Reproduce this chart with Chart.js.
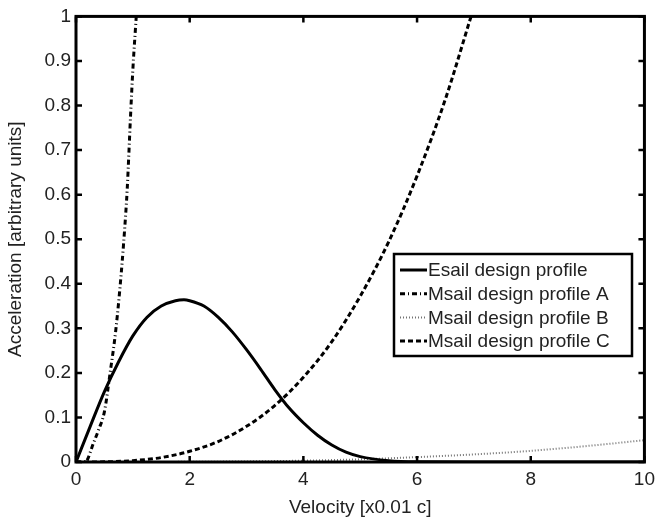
<!DOCTYPE html>
<html>
<head>
<meta charset="utf-8">
<script src="https://cdn.jsdelivr.net/npm/chart.js@4/dist/chart.umd.min.js"></script>
<style>
  html, body { margin: 0; padding: 0; background: #fff; }
</style>
</head>
<body>
<canvas id="profileChart" width="661" height="524"></canvas>
<script>
// Velocity values (x0.01 c) and accelerations
const esailV = [0, 0.25, 0.5, 0.75, 1.0, 1.25, 1.5, 1.75, 1.9, 2.0, 2.25, 2.5, 2.75, 3.0, 3.25, 3.5, 3.75, 4.0, 4.25, 4.5, 4.75, 5.0, 5.5, 6.0, 7.0, 8.0, 9.0, 10.0];
const esailA = [0, 0.08, 0.158, 0.225, 0.283, 0.325, 0.35, 0.362, 0.364, 0.362, 0.35, 0.325, 0.292, 0.252, 0.208, 0.162, 0.121, 0.088, 0.06, 0.038, 0.022, 0.012, 0.003, 0.0005, 0, 0, 0, 0];

const msailAV = [0, 0.1, 0.17, 0.2, 0.3, 0.4, 0.5, 0.6, 0.7, 0.8, 0.874, 0.9, 0.96, 1.0, 1.06];
const msailAA = [0, 0, 0, 0.005, 0.04, 0.073, 0.113, 0.2, 0.296, 0.43, 0.556, 0.61, 0.778, 0.88, 1.0];

const msailBV = [0, 1, 2, 3, 4, 5, 6, 7, 8, 9, 10];
const msailBA = [0, 0.00005, 0.0004, 0.0013, 0.003, 0.006, 0.011, 0.017, 0.025, 0.036, 0.049];

const msailCV = [0, 0.5, 1, 1.5, 2, 2.5, 3, 3.5, 4, 4.5, 5, 5.5, 6, 6.5, 6.95];
const msailCA = [0, 0.0004, 0.003, 0.01, 0.024, 0.046, 0.08, 0.127, 0.19, 0.27, 0.372, 0.494, 0.642, 0.815, 1.0];

const seriesLabels = ['Esail design profile', 'Msail design profile A', 'Msail design profile B', 'Msail design profile C'];

const xTicks = [0, 2, 4, 6, 8, 10];
const xTickLabels = ['0', '2', '4', '6', '8', '10'];
const yTicks = [0, 0.1, 0.2, 0.3, 0.4, 0.5, 0.6, 0.7, 0.8, 0.9, 1];
const yTickLabels = ['0', '0.1', '0.2', '0.3', '0.4', '0.5', '0.6', '0.7', '0.8', '0.9', '1'];

const FONT = 'Liberation Sans, Arial, Helvetica, sans-serif';
const TEXT = '#222';

function points(xs, ys) {
    return xs.map((x, i) => ({ x: x, y: ys[i] }));
}

// Box round the axes with inward ticks, like the original plot
const framePlugin = {
    id: 'frame',
    afterDatasetsDraw(chart) {
        const { ctx, chartArea: a, scales: { x, y } } = chart;
        ctx.save();
        ctx.strokeStyle = '#000';
        ctx.lineWidth = 2.5;
        ctx.beginPath();
        x.ticks.forEach(t => {
            const px = x.getPixelForValue(t.value);
            ctx.moveTo(px, a.bottom); ctx.lineTo(px, a.bottom - 6);
            ctx.moveTo(px, a.top); ctx.lineTo(px, a.top + 6);
        });
        y.ticks.forEach(t => {
            const py = y.getPixelForValue(t.value);
            ctx.moveTo(a.left, py); ctx.lineTo(a.left + 6, py);
            ctx.moveTo(a.right, py); ctx.lineTo(a.right - 6, py);
        });
        ctx.stroke();
        ctx.lineWidth = 3;
        ctx.strokeRect(a.left, a.top, a.right - a.left, a.bottom - a.top);
        ctx.restore();
    }
};

// Legend box drawn inside the plot area
const boxLegendPlugin = {
    id: 'boxLegend',
    afterDraw(chart) {
        const { ctx } = chart;
        const left = 394, top = 254, right = 632, bottom = 356;
        ctx.save();
        ctx.fillStyle = '#fff';
        ctx.fillRect(left, top, right - left, bottom - top);
        ctx.strokeStyle = '#000';
        ctx.lineWidth = 2.5;
        ctx.strokeRect(left, top, right - left, bottom - top);

        ctx.font = '19px ' + FONT;
        ctx.textBaseline = 'middle';
        ctx.textAlign = 'left';
        chart.data.datasets.forEach((ds, i) => {
            const rowY = 270 + i * 23.7;
            ctx.strokeStyle = ds.borderColor;
            ctx.lineWidth = ds.borderWidth;
            ctx.setLineDash(ds.borderDash || []);
            ctx.beginPath();
            ctx.moveTo(400, rowY);
            ctx.lineTo(427, rowY);
            ctx.stroke();
            ctx.setLineDash([]);
            ctx.fillStyle = TEXT;
            ctx.fillText(ds.label, 428, rowY + 1);
        });
        ctx.restore();
    }
};

const ctx = document.getElementById('profileChart').getContext('2d');
new Chart(ctx, {
    type: 'line',
    data: {
        datasets: [
            {
                label: seriesLabels[0],
                data: points(esailV, esailA),
                borderColor: '#000',
                borderWidth: 3,
                borderDash: []
            },
            {
                label: seriesLabels[1],
                data: points(msailAV, msailAA),
                borderColor: '#000',
                borderWidth: 3,
                borderDash: [5, 3, 1, 3]
            },
            {
                label: seriesLabels[2],
                data: points(msailBV, msailBA),
                borderColor: 'rgba(0,0,0,0.55)',
                borderWidth: 2,
                borderDash: [1, 2]
            },
            {
                label: seriesLabels[3],
                data: points(msailCV, msailCA),
                borderColor: '#000',
                borderWidth: 3,
                borderDash: [5, 3]
            }
        ]
    },
    options: {
        responsive: false,
        animation: false,
        devicePixelRatio: 1,
        layout: { padding: { top: 12, right: 13, left: 0, bottom: 0 } },
        elements: {
            point: { radius: 0 },
            line: { cubicInterpolationMode: 'monotone', fill: false }
        },
        plugins: {
            legend: { display: false },
            tooltip: { enabled: false }
        },
        scales: {
            x: {
                type: 'linear',
                min: 0,
                max: 10,
                afterBuildTicks: s => { s.ticks = xTicks.map(v => ({ value: v })); },
                afterFit: s => { s.height = 62; },
                ticks: {
                    callback: (v, i) => xTickLabels[i],
                    font: { family: FONT, size: 19 },
                    color: TEXT,
                    padding: 6,
                    maxRotation: 0
                },
                grid: { display: false, drawTicks: false },
                border: { display: false },
                title: {
                    display: true,
                    text: 'Velocity [x0.01 c]',
                    font: { family: FONT, size: 19 },
                    color: TEXT,
                    padding: { top: 0, bottom: 5 }
                }
            },
            y: {
                type: 'linear',
                min: 0,
                max: 1,
                afterBuildTicks: s => { s.ticks = yTicks.map(v => ({ value: v })); },
                afterFit: s => { s.width = 76; },
                ticks: {
                    callback: (v, i) => yTickLabels[i],
                    font: { family: FONT, size: 19 },
                    color: TEXT,
                    padding: 5
                },
                grid: { display: false, drawTicks: false },
                border: { display: false },
                title: {
                    display: true,
                    text: 'Acceleration [arbitrary units]',
                    font: { family: FONT, size: 19 },
                    color: TEXT,
                    padding: { top: 4, bottom: 0 }
                }
            }
        }
    },
    plugins: [framePlugin, boxLegendPlugin]
});
</script>
</body>
</html>
